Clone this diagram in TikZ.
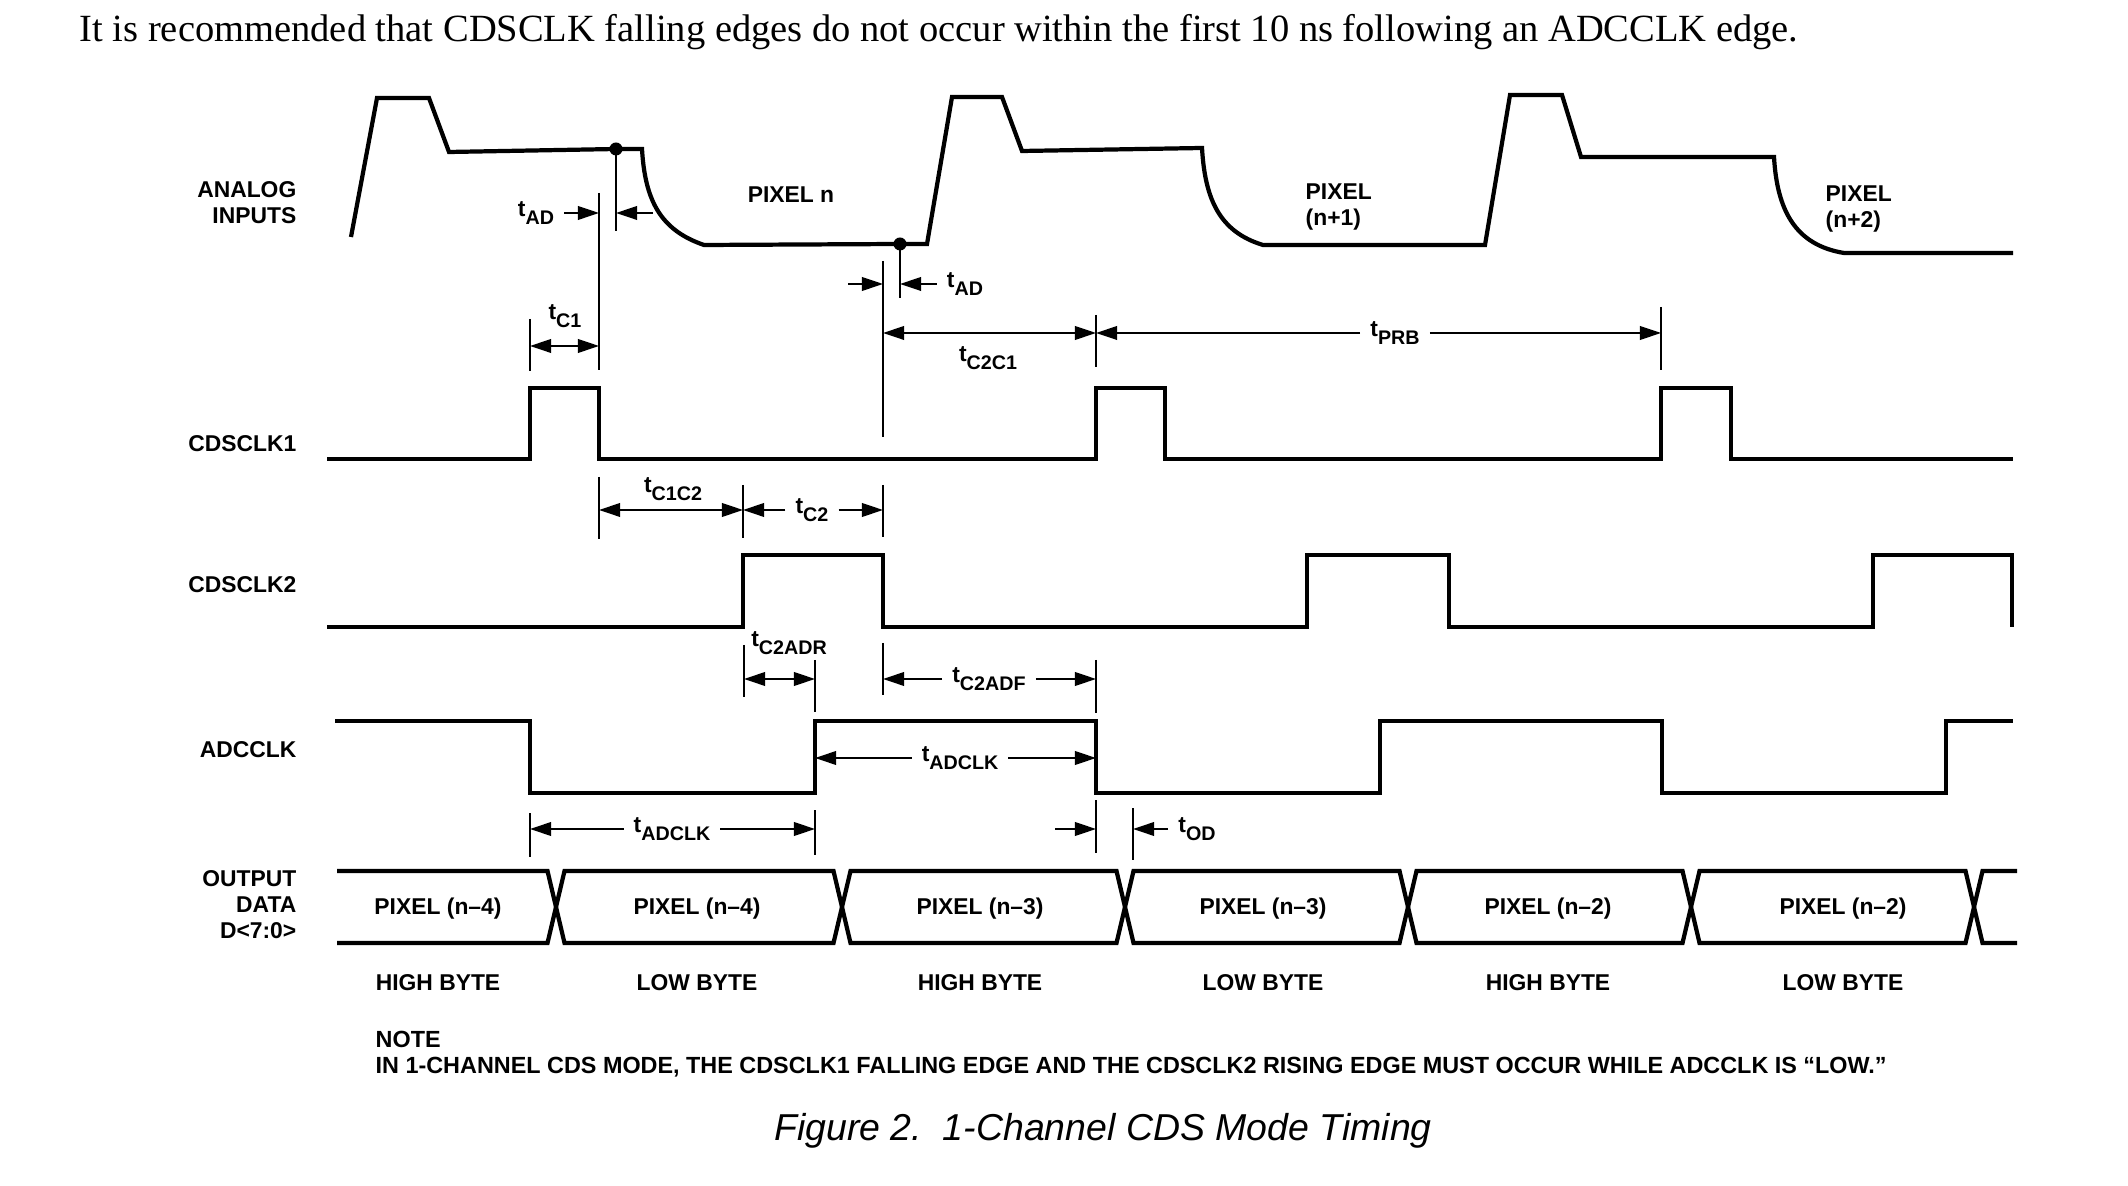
\documentclass[tikz,border=0pt]{standalone}
\usepackage{fontspec}
\setmainfont{Liberation Serif}
\setsansfont{Liberation Sans}
\usetikzlibrary{arrows.meta, positioning}

\newcommand{\lab}{\sffamily\bfseries\fontsize{6.5}{7.4}\selectfont}
\newcommand{\tsub}[1]{t\raisebox{-2.4pt}{\fontsize{5.6}{6}\selectfont #1}}

\tikzset{
  sig/.style={line width=1.2pt, line join=miter},
  dimline/.style={line width=0.4pt},
  tip/.style={dimline, -{Triangle[length=6pt, width=3.9pt]}},
  twotip/.style={dimline, {Triangle[length=6pt, width=3.9pt]}-{Triangle[length=6pt, width=3.9pt]}},
  signame/.style={font=\lab, anchor=east, align=right, inner sep=0pt},
  txt/.style={font=\lab, inner sep=0pt},
  tlbl/.style={font=\lab, inner xsep=2.7pt, inner ysep=0pt},
  sample/.style={circle, fill, inner sep=0pt, minimum size=3.7pt},
}

\begin{document}
\begin{tikzpicture}[x=0.01cm, y=-0.01cm]
\useasboundingbox (0,0) rectangle (2128,1186);

\node[anchor=base west, inner sep=0pt, font=\fontsize{10.95}{13}\selectfont] (intro) at (79,42)
  {It is recommended that CDSCLK falling edges do not occur within the first 10 ns following an ADCCLK edge.};

% signal names
\node[signame] (ain) at (297,203) {ANALOG\\INPUTS};
\node[signame] (c1name) at (297,444) {CDSCLK1};
\node[signame] (c2name) at (297,585) {CDSCLK2};
\node[signame] (adname) at (297,750) {ADCCLK};
\node[signame] (outname) at (297,905) {OUTPUT\\DATA\\D<7:0>};

% analog inputs
\draw[sig] (351,237) -- (377,98) -- (429,98) -- (449,152) -- (616,149) -- (642,149)
  .. controls (645,200) and (660,230) .. (704,245) -- (900,244) -- (927,244)
  -- (952,97) -- (1002,97) -- (1022,151) -- (1202,148)
  .. controls (1205,200) and (1220,232) .. (1263,245) -- (1485,245)
  -- (1510,95) -- (1562,95) -- (1581,157) -- (1774,157)
  .. controls (1777,210) and (1795,245) .. (1844,253) -- (2013,253);
\node[sample] (s1) at (616,149) {};
\node[sample] (s2) at (900,244) {};
\node[txt] (pixn) at (791,195) {PIXEL n};
\node[txt, anchor=west, align=left] (pixn1) at (1305,207) {PIXEL\\(n+1)};
\node[txt, anchor=west, align=left] (pixn2) at (1825,209) {PIXEL\\(n+2)};

% clocks
\draw[sig] (327,459) -- (530,459) -- (530,388) -- (599,388) -- (599,459) -- (1096,459)
  -- (1096,388) -- (1165,388) -- (1165,459) -- (1661,459) -- (1661,388) -- (1731,388)
  -- (1731,459) -- (2013,459);
\draw[sig] (327,627) -- (743,627) -- (743,555) -- (883,555) -- (883,627) -- (1307,627)
  -- (1307,555) -- (1449,555) -- (1449,627) -- (1873,627) -- (1873,555) -- (2012,555)
  -- (2012,627);
\draw[sig] (335,721) -- (530,721) -- (530,793) -- (815,793) -- (815,721) -- (1096,721)
  -- (1096,793) -- (1380,793) -- (1380,721) -- (1662,721) -- (1662,793) -- (1946,793)
  -- (1946,721) -- (2013,721);

% output data bus
\draw[sig] (337,871) -- (547.5,871) -- (556,907) -- (547.5,943) -- (337,943);
\foreach \a/\b in {556/842, 842/1125, 1125/1408, 1408/1691, 1691/1974}
  \draw[sig] (\a,907) -- (\a+8.5,871) -- (\b-8.5,871) -- (\b,907) -- (\b-8.5,943) -- (\a+8.5,943) -- cycle;
\draw[sig] (2017,871) -- (1982.5,871) -- (1974,907) -- (1982.5,943) -- (2017,943);
\foreach \cx/\pix/\byt [count=\i] in {438/{PIXEL (n–4)}/{HIGH BYTE}, 697/{PIXEL (n–4)}/{LOW BYTE},
    980/{PIXEL (n–3)}/{HIGH BYTE}, 1263/{PIXEL (n–3)}/{LOW BYTE},
    1548/{PIXEL (n–2)}/{HIGH BYTE}, 1843/{PIXEL (n–2)}/{LOW BYTE}} {
  \node[txt] (pix\i) at (\cx,909) {\pix};
  \node[txt] (byte\i) at (\cx,983) {\byt};
}

% extension lines
\draw[dimline] (599,193) -- (599,370);
\draw[dimline] (s1.center) -- (616,231);
\draw[dimline] (530,319) -- (530,371);
\draw[dimline] (883,261) -- (883,437);
\draw[dimline] (s2.center) -- (900,298);
\draw[dimline] (1096,315) -- (1096,367);
\draw[dimline] (1661,307) -- (1661,370);
\draw[dimline] (599,477) -- (599,539);
\draw[dimline] (743,485) -- (743,538);
\draw[dimline] (883,485) -- (883,537);
\draw[dimline] (744,645) -- (744,697);
\draw[dimline] (815,660) -- (815,712);
\draw[dimline] (883,643) -- (883,695);
\draw[dimline] (1096,660) -- (1096,713);
\draw[dimline] (530,813) -- (530,857);
\draw[dimline] (815,810) -- (815,855);
\draw[dimline] (1096,800) -- (1096,853);
\draw[dimline] (1133,808) -- (1133,860);

% timing labels
\node[tlbl] (tad1) at (536,213) {\tsub{AD}};
\draw[tip] (tad1) -- (599,213);
\draw[tip] (653,213) -- (616,213);
\node[tlbl] (tc1) at (565,316) {\tsub{C1}};
\draw[twotip] (530,346) -- (599,346);
\node[tlbl] (tad2) at (965,284) {\tsub{AD}};
\draw[tip] (tad2) -- (900,284);
\draw[tip] (848,284) -- (883,284);
\draw[twotip] (883,333) -- (1096,333);
\node[tlbl] (tc2c1) at (988,358) {\tsub{C2C1}};
\node[tlbl] (tprb) at (1395,333) {\tsub{PRB}};
\draw[tip] (tprb) -- (1096,333);
\draw[tip] (tprb) -- (1661,333);
\node[tlbl] (tc1c2) at (673,489) {\tsub{C1C2}};
\draw[twotip] (599,510) -- (743,510);
\node[tlbl] (tc2) at (812,510) {\tsub{C2}};
\draw[tip] (tc2) -- (743,510);
\draw[tip] (tc2) -- (883,510);
\node[tlbl] (tc2adr) at (789,643) {\tsub{C2ADR}};
\draw[twotip] (744,679) -- (815,679);
\node[tlbl] (tc2adf) at (989,679) {\tsub{C2ADF}};
\draw[tip] (tc2adf) -- (883,679);
\draw[tip] (tc2adf) -- (1096,679);
\node[tlbl] (tadclk1) at (960,758) {\tsub{ADCLK}};
\draw[tip] (tadclk1) -- (815,758);
\draw[tip] (tadclk1) -- (1096,758);
\node[tlbl] (tadclk2) at (672,829) {\tsub{ADCLK}};
\draw[tip] (tadclk2) -- (530,829);
\draw[tip] (tadclk2) -- (815,829);
\node[tlbl] (tod) at (1197,829) {\tsub{OD}};
\draw[tip] (1055,829) -- (1096,829);
\draw[tip] (tod) -- (1133,829);

% note and caption
\node[txt, anchor=west, align=left, font=\sffamily\bfseries\fontsize{6.65}{7.4}\selectfont] (note) at (375,1054)
  {NOTE\\IN 1-CHANNEL CDS MODE, THE CDSCLK1 FALLING EDGE AND THE CDSCLK2 RISING EDGE MUST OCCUR WHILE ADCCLK IS “LOW.”};
\node[font=\sffamily\itshape\fontsize{10.65}{12}\selectfont, inner sep=0pt] (caption) at (1103,1131)
  {Figure 2.\ \ 1-Channel CDS Mode Timing};
\end{tikzpicture}
\end{document}
